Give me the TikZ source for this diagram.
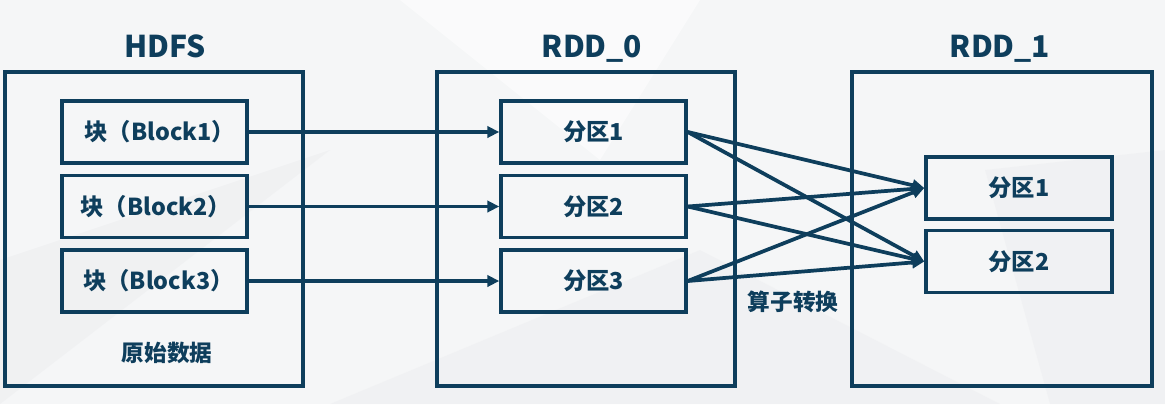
\documentclass[tikz,border=0pt]{standalone}
\usepackage{fontspec}
\setmainfont{Noto Sans CJK SC}
\usetikzlibrary{arrows.meta}
\definecolor{navy}{HTML}{0E3E5C}
\definecolor{bgc}{HTML}{F5F6F7}
\definecolor{bgd}{HTML}{EDEEF0}
\begin{document}
\begin{tikzpicture}[x=0.75pt,y=-0.75pt,
  outer/.style={draw=navy,line width=3pt,inner sep=0pt,minimum height={314*0.75pt}},
  inner/.style={draw=navy,line width=2.6pt,inner sep=0pt,minimum width={185*0.75pt},minimum height={62*0.75pt},font=\bfseries\fontsize{17.5pt}{20pt}\selectfont,text=navy},
  title/.style={font=\bfseries\fontsize{22.5pt}{26pt}\selectfont,text=navy,anchor=base,inner sep=0pt},
  note/.style={font=\bfseries\fontsize{17pt}{20pt}\selectfont,text=navy,inner sep=0pt},
  conn/.style={draw=navy,line width=2.8pt,-{Triangle[length=9pt,width=8.5pt]}}
]
% background
\fill[bgc] (0,0) rectangle (1165,404);
\fill[bgd,opacity=0.6] (0,260) -- (330,150) -- (0,404) -- cycle;
\fill[bgd,opacity=0.5] (330,404) -- (700,250) -- (1000,404) -- cycle;
\fill[bgd,opacity=0.5] (985,170) -- (1165,150) -- (1165,404) -- (1050,404) -- cycle;
\fill[white,opacity=0.5] (400,0) -- (700,0) -- (600,160) -- cycle;
\useasboundingbox (0,0) rectangle (1165,404);

% outer boxes
\node[outer,minimum width={298*0.75pt}] (hdfs) at (154,229) {};
\node[outer,minimum width={298*0.75pt}] (rdd0) at (586,229) {};
\node[outer,minimum width={300*0.75pt}] (rdd1) at (1002,229) {};

% titles
\node[title] (thdfs) at (165,57) {HDFS};
\node[title] (trdd0) at (592,57) {RDD\_0};
\node[title] (trdd1) at (1000,57) {RDD\_1};

% blocks
\node[inner] (b1) at (154.5,132) {\hspace*{8pt}块（Block1）};
\node[inner] (b2) at (154.5,206.5) {\hspace*{2pt}块（Block2）};
\node[inner] (b3) at (154.5,281) {\hspace*{6pt}块（Block3）};
\node[note] (raw) at (167,353) {原始数据};

% rdd0 partitions
\node[inner] (p1) at (593.5,132) {分区1};
\node[inner] (p2) at (593.5,206.5) {分区2};
\node[inner] (p3) at (593.5,281) {分区3};

% rdd1 partitions
\node[inner,minimum width={186*0.75pt}] (q1) at (1019,188) {分区1};
\node[inner,minimum width={186*0.75pt}] (q2) at (1019,261.5) {分区2};

\node[note] (op) at (793,302) {算子转换};

% connectors
\draw[conn] (b1.east) -- (p1.west);
\draw[conn] (b2.east) -- (p2.west);
\draw[conn] (b3.east) -- (p3.west);
\foreach \s in {p1,p2,p3}{
  \draw[conn] (\s.east) -- (q1.west);
  \draw[conn] (\s.east) -- (q2.west);
}
\end{tikzpicture}
\end{document}
